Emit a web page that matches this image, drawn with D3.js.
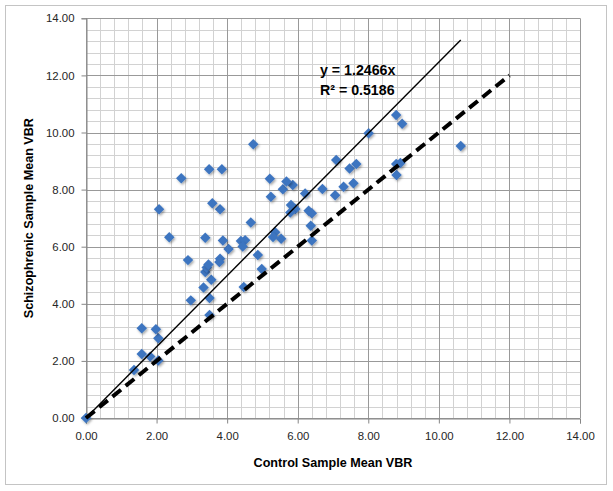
<!DOCTYPE html>
<html>
<head>
<meta charset="utf-8">
<script src="https://cdn.jsdelivr.net/npm/d3@7"></script>
<style>
  html, body { margin: 0; padding: 0; background: #fff; }
  svg { display: block; }
  text { font-family: "Liberation Sans", Arial, sans-serif; }
</style>
</head>
<body>
<svg id="chart" width="613" height="491"></svg>
<script>
// ---- data ----
const controlVBR = [0.00, 1.36, 1.58, 1.82, 2.05, 2.05, 1.98, 1.58, 3.50, 2.97,
  3.50, 3.33, 4.47, 3.55, 3.38, 3.42, 3.47, 4.98, 2.89, 3.80,
  3.78, 4.87, 4.04, 4.39, 4.51, 4.44, 3.88, 3.38, 2.36, 4.67,
  5.36, 5.30, 5.53, 6.40, 6.37, 5.81, 5.93, 5.79, 6.31, 6.40,
  2.07, 3.80, 3.58, 5.24, 6.21, 7.06, 5.58, 6.70, 7.30, 7.58,
  5.86, 5.68, 5.21, 2.70, 3.49, 3.85, 7.47, 7.66, 8.80, 8.79,
  8.91, 7.09, 4.74, 10.62, 8.01, 8.96, 8.79];
const schizVBR = [0.00, 1.68, 2.24, 2.15, 2.01, 2.79, 3.11, 3.14, 3.61, 4.12,
  4.20, 4.57, 4.59, 4.84, 5.11, 5.27, 5.38, 5.22, 5.53, 5.58,
  5.46, 5.71, 5.92, 6.20, 6.23, 6.01, 6.22, 6.31, 6.33, 6.85,
  6.51, 6.34, 6.28, 6.22, 6.73, 7.46, 7.32, 7.20, 7.26, 7.17,
  7.31, 7.31, 7.52, 7.75, 7.86, 7.80, 8.01, 8.02, 8.10, 8.22,
  8.16, 8.28, 8.38, 8.40, 8.71, 8.71, 8.74, 8.90, 8.51, 8.90,
  8.93, 9.04, 9.59, 9.53, 9.97, 10.31, 10.61];
const xTicks = [0, 2, 4, 6, 8, 10, 12, 14];
const yTicks = [0, 2, 4, 6, 8, 10, 12, 14];
const minorStep = 0.4;
const trendSlope = 1.2466;
const equationLabel = "y = 1.2466x";
const r2Label = "R² = 0.5186";
const identityEnd = 12;
const xTitle = "Control Sample Mean VBR";
const yTitle = "Schizophrenic Sample Mean VBR";

// ---- layout ----
const svg = d3.select("#chart");
const pLeft = 86, pRight = 580, pTop = 18.3, pBottom = 418;
const x = d3.scaleLinear().domain([0, 14]).range([pLeft, pRight]);
const y = d3.scaleLinear().domain([0, 14]).range([pBottom, pTop]);

// chart border
svg.append("rect").attr("x", 5.5).attr("y", 5.5).attr("width", 601).attr("height", 479)
  .attr("fill", "#fff").attr("stroke", "#c4c4c4").attr("stroke-width", 1);

// minor gridlines
const minors = d3.range(0, 14.0001, minorStep).filter(v => Math.abs(v / 2 - Math.round(v / 2)) > 1e-6);
const g = svg.append("g");
g.selectAll(".vmin").data(minors).enter().append("line")
  .attr("x1", d => Math.round(x(d)) + 0.5).attr("x2", d => Math.round(x(d)) + 0.5)
  .attr("y1", pTop).attr("y2", pBottom).attr("stroke", "#d2d2d2").attr("stroke-width", 1);
g.selectAll(".hmin").data(minors).enter().append("line")
  .attr("y1", d => Math.round(y(d)) + 0.5).attr("y2", d => Math.round(y(d)) + 0.5)
  .attr("x1", pLeft).attr("x2", pRight).attr("stroke", "#d2d2d2").attr("stroke-width", 1);

// major gridlines
g.selectAll(".vmaj").data(xTicks).enter().append("line")
  .attr("x1", d => Math.round(x(d)) + 0.5).attr("x2", d => Math.round(x(d)) + 0.5)
  .attr("y1", pTop).attr("y2", pBottom).attr("stroke", "#999999").attr("stroke-width", 1);
g.selectAll(".hmaj").data(yTicks).enter().append("line")
  .attr("y1", d => Math.round(y(d)) + 0.5).attr("y2", d => Math.round(y(d)) + 0.5)
  .attr("x1", pLeft).attr("x2", pRight).attr("stroke", "#999999").attr("stroke-width", 1);

// axes
const fmt = d3.format(".2f");
const xAxis = d3.axisBottom(x).tickValues(xTicks).tickFormat(fmt).tickSize(5).tickPadding(8);
const yAxis = d3.axisLeft(y).tickValues(yTicks).tickFormat(fmt).tickSize(5).tickPadding(7);
const gx = svg.append("g").attr("transform", `translate(0,${Math.round(pBottom) + 0.5})`).call(xAxis);
const gy = svg.append("g").attr("transform", `translate(${Math.round(pLeft) + 0.5},0)`).call(yAxis);
[gx, gy].forEach(a => {
  a.select(".domain").attr("stroke", "#868686");
  a.selectAll(".tick line").attr("stroke", "#868686");
  a.selectAll(".tick text").attr("fill", "#262626").style("font-size", "11.4px")
    .style("font-family", "'Liberation Sans', Arial, sans-serif");
});

// shadow filter
const defs = svg.append("defs");
const f = defs.append("filter").attr("id", "sh").attr("x", "-50%").attr("y", "-50%").attr("width", "200%").attr("height", "200%");
f.append("feDropShadow").attr("dx", 1.2).attr("dy", 1.5).attr("stdDeviation", 1)
  .attr("flood-color", "#000").attr("flood-opacity", 0.35);

// points
const pts = controlVBR.map((c, i) => ({ c, s: schizVBR[i] }));
svg.append("g").selectAll("path").data(pts).enter().append("path")
  .attr("d", d3.symbol().type(d3.symbolDiamond2).size(70))
  .attr("transform", d => `translate(${x(d.c)},${y(d.s)})`)
  .attr("fill", "#3d74c0").attr("filter", "url(#sh)");

// trend line (solid)
const xMax = d3.max(controlVBR);
svg.append("line")
  .attr("x1", x(0)).attr("y1", y(0)).attr("x2", x(xMax)).attr("y2", y(trendSlope * xMax))
  .attr("stroke", "#000").attr("stroke-width", 1.4);

// identity line (dashed)
svg.append("line")
  .attr("x1", x(0)).attr("y1", y(0)).attr("x2", x(identityEnd)).attr("y2", y(identityEnd))
  .attr("stroke", "#000").attr("stroke-width", 4).attr("stroke-dasharray", "11,6");

// equation labels
svg.append("text").attr("x", 320).attr("y", 75).text(equationLabel)
  .style("font-size", "14.2px").style("font-weight", "bold").attr("fill", "#000");
svg.append("text").attr("x", 320).attr("y", 95).text(r2Label)
  .style("font-size", "14.2px").style("font-weight", "bold").attr("fill", "#000");

// axis titles
svg.append("text").attr("x", (pLeft + pRight) / 2).attr("y", 467).attr("text-anchor", "middle")
  .text(xTitle).style("font-size", "12.6px").style("font-weight", "bold").attr("fill", "#000");
svg.append("text").attr("transform", `translate(33,${(pTop + pBottom) / 2}) rotate(-90)`)
  .attr("text-anchor", "middle").text(yTitle)
  .style("font-size", "12.6px").style("font-weight", "bold").attr("fill", "#000");
</script>
</body>
</html>
